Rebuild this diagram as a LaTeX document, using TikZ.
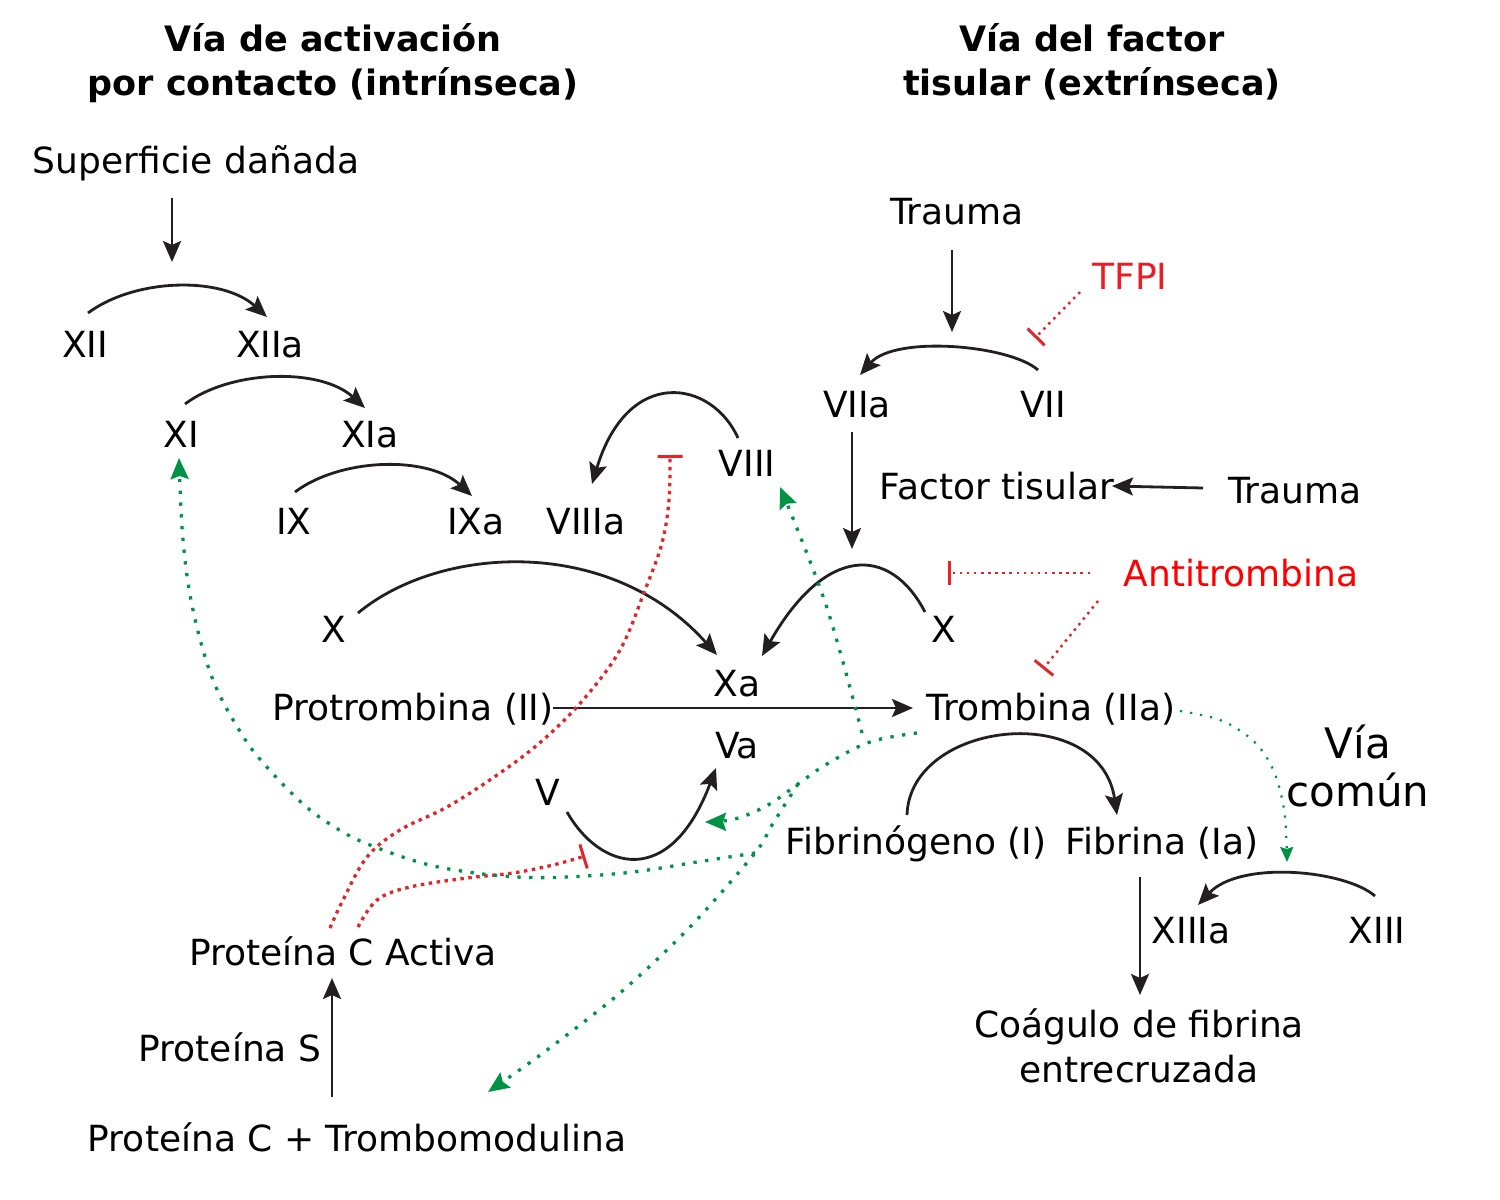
\documentclass[tikz,border=0pt]{standalone}
\usepackage{fontspec}
\setmainfont{DejaVu Sans}
\usetikzlibrary{arrows.meta}
\definecolor{ink}{HTML}{231F20}
\definecolor{grn}{HTML}{009245}
\definecolor{rdl}{HTML}{E0262B}
\definecolor{tfpired}{HTML}{ED1C24}
\definecolor{atred}{HTML}{FF0000}
\begin{document}
\begin{tikzpicture}[x=1pt,y=-1pt,
  lbl/.style={anchor=base, inner sep=0pt, font=\fontsize{36}{43}\selectfont, text=black},
  ttl/.style={lbl, font=\fontsize{35}{42}\selectfont\bfseries},
  big/.style={lbl, font=\fontsize{42}{50}\selectfont},
  arr/.style={draw=ink, line width=2.8pt, -{Stealth[length=21pt,width=18pt,inset=4pt]}},
  garr/.style={draw=grn, line width=3.3pt, dash pattern=on 3.3pt off 8.5pt, -{Stealth[length=21pt,width=18pt,inset=3pt]}},
  gthin/.style={draw=grn, line width=2.2pt, dash pattern=on 2.2pt off 8pt, -{Stealth[length=15pt,width=13pt,inset=2pt]}},
  rthick/.style={draw=rdl, line width=3.3pt, dash pattern=on 3.5pt off 4.5pt, -{Bar[width=25pt,line width=3pt]}},
  rthin/.style={draw=rdl, line width=2.5pt, dash pattern=on 2.5pt off 4.6pt, -{Bar[width=24pt,line width=3pt]}}
]
\useasboundingbox (0,0) rectangle (1500,1200);

% titles
\node[ttl] (t1a) at (333,51) {Vía de activación};
\node[ttl] (t1b) at (333,95) {por contacto (intrínseca)};
\node[ttl] (t2a) at (1092,51) {Vía del factor};
\node[ttl] (t2b) at (1092,95) {tisular (extrínseca)};

% intrinsic
\node[lbl] (sup) at (196,173) {Superficie dañada};
\node[lbl] (xii) at (85,357) {XII};
\node[lbl] (xiia) at (270,357) {XIIa};
\node[lbl] (xi) at (181,447) {XI};
\node[lbl] (xia) at (370,447) {XIa};
\node[lbl] (ix) at (294,534) {IX};
\node[lbl] (ixa) at (476,534) {IXa};
\node[lbl] (viiia) at (586,534) {VIIIa};
\node[lbl] (viii) at (747,476) {VIII};
\node[lbl] (xl) at (334,642) {X};
\node[lbl] (xa) at (737,696) {Xa};
\node[lbl] (pro) at (413,720) {Protrombina (II)};
\node[lbl] (tro) at (1051,720) {Trombina (IIa)};
\node[lbl] (va) at (737,758) {Va};
\node[lbl] (v) at (548,805) {V};

% extrinsic
\node[lbl] (tr1) at (957,224) {Trauma};
\node[lbl, text=tfpired] (tfpi) at (1130,289) {TFPI};
\node[lbl] (viia) at (857,417) {VIIa};
\node[lbl] (vii) at (1043,417) {VII};
\node[lbl] (ft) at (997,499) {Factor tisular};
\node[lbl] (tr2) at (1295,503) {Trauma};
\node[lbl, text=atred] (at) at (1241,586) {Antitrombina};
\node[lbl] (xr) at (944,642) {X};

% common
\node[big] (via1) at (1358,758) {Vía};
\node[big] (via2) at (1358,806) {común};
\node[lbl] (fib) at (916,854) {Fibrinógeno (I)};
\node[lbl] (fibr) at (1162,854) {Fibrina (Ia)};
\node[lbl] (xiiia) at (1191,943) {XIIIa};
\node[lbl] (xiii) at (1377,943) {XIII};
\node[lbl] (coag1) at (1139,1037) {Coágulo de fibrina};
\node[lbl] (coag2) at (1139,1082) {entrecruzada};

% protein C
\node[lbl] (pca) at (343,965) {Proteína C Activa};
\node[lbl] (ps) at (230,1061) {Proteína S};
\node[lbl] (pctm) at (357,1151) {Proteína C + Trombomodulina};

% black connectors
\draw[arr] ([shift={(-24,25)}]sup.base) -- ++(0,64);
\draw[arr] ([shift={(3,-44)}]xii.base) .. controls (135,278) and (222,276) .. ([shift={(-3,-40)}]xiia.base);
\draw[arr] ([shift={(4,-43)}]xi.base) .. controls (230,370) and (320,367) .. ([shift={(-5,-39)}]xia.base);
\draw[arr] ([shift={(1,-42)}]ix.base) .. controls (340,458) and (428,455) .. ([shift={(-4,-38)}]ixa.base);
\draw[arr] ([shift={(24,-29)}]xl.base) .. controls (440,545) and (610,535) .. ([shift={(-20,-41)}]xa.base);
\draw[arr] ([shift={(140,-12)}]pro.base) -- ([shift={(-138,-12)}]tro.base);
\draw[arr] ([shift={(19,7)}]v.base) .. controls (600,870) and (670,890) .. ([shift={(-21,10)}]va.base);
\draw[arr] ([shift={(-9,-38)}]viii.base) .. controls (712,380) and (628,365) .. ([shift={(6,-50)}]viiia.base);
\draw[arr] ([shift={(-5,26)}]tr1.base) -- ++(0,82);
\draw[arr] ([shift={(-5,-47)}]vii.base) .. controls (1010,345) and (895,335) .. ([shift={(3,-42)}]viia.base);
\draw[arr] ([shift={(-5,15)}]viia.base) -- ++(0,117);
\draw[arr] ([shift={(-92,-15)}]tr2.base) -- ([shift={(115,-13)}]ft.base);
\draw[arr] ([shift={(-19,-30)}]xr.base) .. controls (890,545) and (825,545) .. ([shift={(25,-40)}]xa.base);
\draw[arr] ([shift={(-9,-39)}]fib.base) .. controls (910,720) and (1100,700) .. ([shift={(-45,-39)}]fibr.base);
\draw[arr] ([shift={(-22,23)}]fibr.base) -- ([shift={(1,-42)}]coag1.base);
\draw[arr] ([shift={(-2,-47)}]xiii.base) .. controls (1345,870) and (1240,860) .. ([shift={(7,-38)}]xiiia.base);
\draw[arr] ([shift={(-25,-54)}]pctm.base) -- ([shift={(-11,13)}]pca.base);

% red inhibitions
\draw[rthin] ([shift={(-50,3)}]tfpi.base) -- ++(-45,46);
\draw[rthin] ([shift={(-151,-13)}]at.base) -- ++(-142,0);
\draw[rthin] ([shift={(-143,15)}]at.base) -- ([shift={(-8,-51)}]tro.base);
\draw[rthick] plot[smooth, tension=0.6] coordinates {([shift={(-13,-37)}]pca.base) (343,900) (367,857) (400,830) (447,807) (500,773) (543,740) (583,700) (620,650) (645,590) (662,543) (669,500) ([shift={(-77,-21)}]viii.base)};
\draw[rthick] plot[smooth, tension=0.6] coordinates {([shift={(15,-38)}]pca.base) (377,900) (410,887) (467,878) (513,873) (553,865) ([shift={(37,51)}]v.base)};

% green activations
\coordinate (br1) at (798,784);
\coordinate (br2) at (755,853);
\draw[garr] plot[smooth, tension=0.6] coordinates {([shift={(-134,13)}]tro.base) (870,742) (827,764) (br1) (768,805) (735,819) ([shift={(-32,64)}]va.base)};
\draw[garr] plot[smooth, tension=0.6] coordinates {([shift={(-189,13)}]tro.base) (826,605) ([shift={(33,11)}]viii.base)};
\draw[garr] plot[smooth, tension=0.5] coordinates {(br1) (772,825) (br2) (690,927) (620,993) (543,1053) ([shift={(131,-59)}]pctm.base)};
\draw[garr] plot[smooth, tension=0.6] coordinates {(br2) (697,862) (633,872) (567,877) (517,877) (468,872) (422,863) (365,843) (333,826) (303,804) (265,765) (241,733) (213,680) (193,610) (183,540) ([shift={(-2,11)}]xi.base)};
\draw[gthin] plot[smooth, tension=0.6] coordinates {([shift={(129,-9)}]tro.base) (1220,720) (1250,738) (1267,758) (1278,783) (1285,817) ([shift={(96,-81)}]xiiia.base)};
\end{tikzpicture}
\end{document}
